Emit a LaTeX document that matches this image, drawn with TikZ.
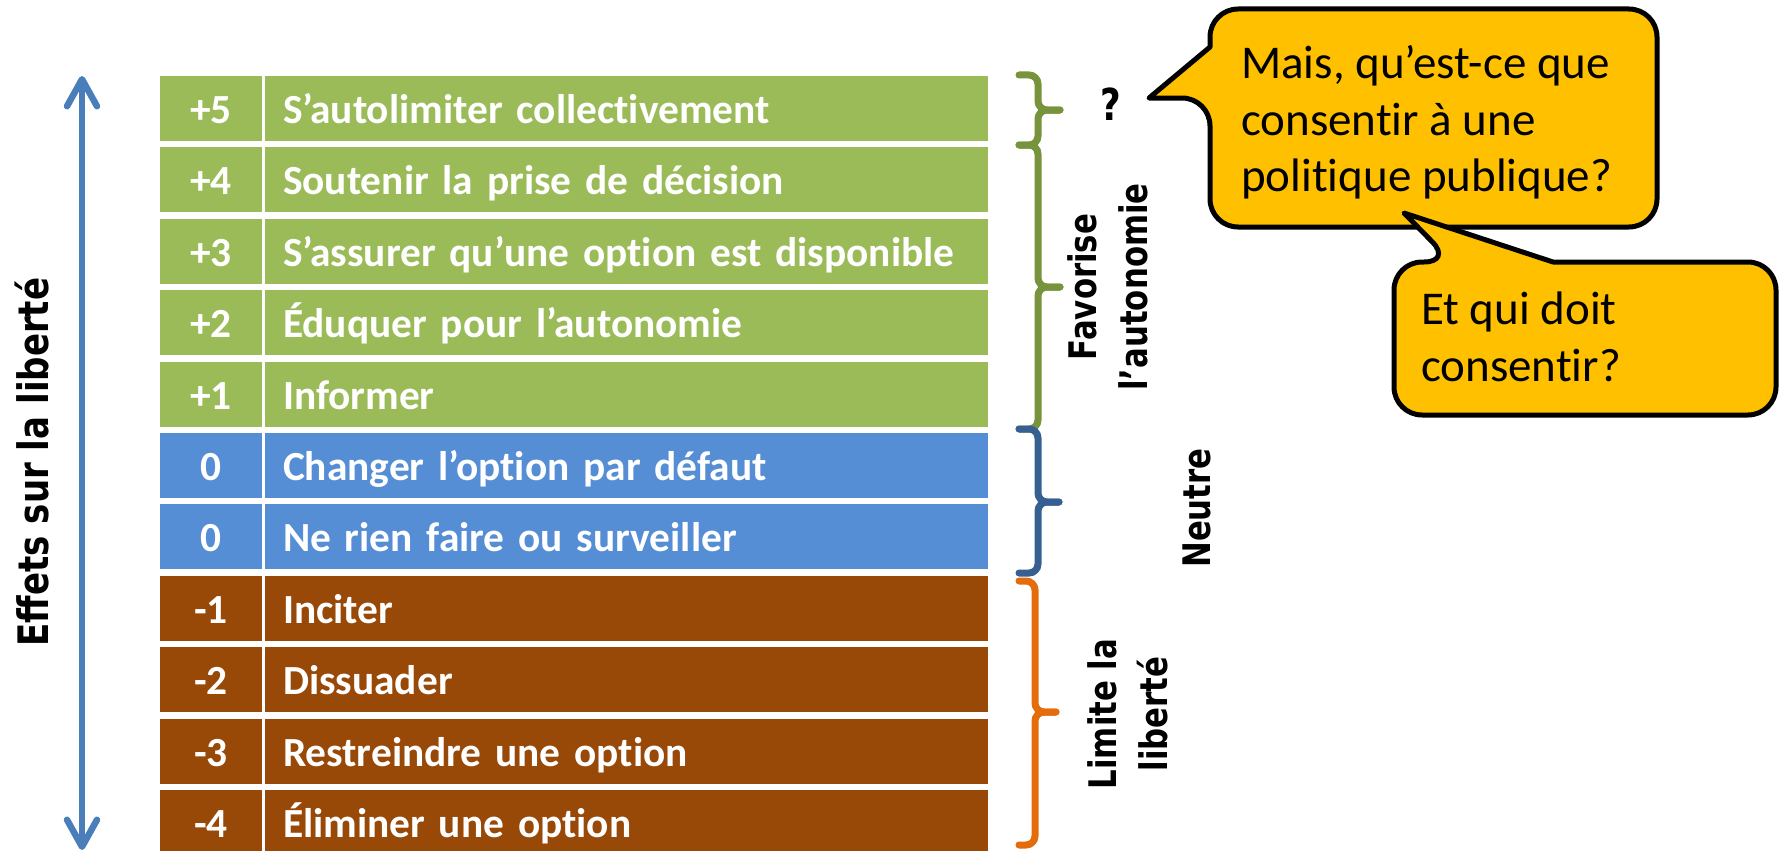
\documentclass[tikz,border=0pt]{standalone}
\usepackage{fontspec}
\setmainfont{Carlito}[Ligatures={TeX,NoCommon}]
\newfontfamily\lblfont{DejaVu Sans}[FakeStretch=0.81]
\usetikzlibrary{arrows.meta}
\definecolor{vert}{HTML}{9BBB59}
\definecolor{bleu}{HTML}{558ED5}
\definecolor{brun}{HTML}{984807}
\definecolor{vertb}{HTML}{77933C}
\definecolor{bleub}{HTML}{376092}
\definecolor{orangeb}{HTML}{E46C0A}
\definecolor{axecol}{HTML}{4A7EBB}
\definecolor{jaune}{HTML}{FFC000}
\begin{document}
\begin{tikzpicture}[x=1pt,y=-1pt,
        num/.style={minimum width=102pt,minimum height=65pt,inner sep=0pt,
            text=white,text height=30pt,text depth=0pt,
            font=\fontsize{41.4}{48}\selectfont\bfseries},
        act/.style={num,minimum width=723pt,text width=687pt,inner xsep=18pt,
            align=left},
        lbl/.style={font={\lblfont\bfseries\fontsize{38}{51}\selectfont},
            align=center,inner sep=0pt,rotate=90},
        brace/.style={line width=7pt,rounded corners=9pt,line cap=round},
        bulle/.style={fill=jaune,draw=black,line width=5pt,line join=round},
        texte/.style={font=\fontsize{47}{56.7}\selectfont,align=left,
            inner sep=0pt,anchor=north west}]
\useasboundingbox (0,0) rectangle (1781,851);

% axe
\coordinate (axtop) at (82,76);
\coordinate (axbot) at (82,850);
\draw[axecol,line width=6.5pt,
    {Straight Barb[length=27pt,width=30pt,round]}-{Straight Barb[length=27pt,width=30pt,round]}]
    (axtop) -- (axbot);
\node[lbl,font={\lblfont\bfseries\fontsize{42}{50}\selectfont}] (axe) at (32,462) {Effets sur la liberté};

% echelle
\node[num,fill=vert] (n5) at (211,108.5) {+5};
\node[act,fill=vert] (a5) at (626.5,108.5) {S’autolimiter collectivement};
\node[num,fill=vert] (n4) at (211,179.9) {+4};
\node[act,fill=vert] (a4) at (626.5,179.9) {Soutenir la prise de décision};
\node[num,fill=vert] (n3) at (211,251.3) {+3};
\node[act,fill=vert] (a3) at (626.5,251.3) {S’assurer qu’une option est disponible};
\node[num,fill=vert] (n2) at (211,322.7) {+2};
\node[act,fill=vert] (a2) at (626.5,322.7) {Éduquer pour l’autonomie};
\node[num,fill=vert] (n1) at (211,394.1) {+1};
\node[act,fill=vert] (a1) at (626.5,394.1) {Informer};
\node[num,fill=bleu] (z1) at (211,465.5) {0};
\node[act,fill=bleu] (b1) at (626.5,465.5) {Changer l’option par défaut};
\node[num,fill=bleu] (z2) at (211,536.9) {0};
\node[act,fill=bleu] (b2) at (626.5,536.9) {Ne rien faire ou surveiller};
\node[num,fill=brun] (m1) at (211,608.3) {-1};
\node[act,fill=brun] (c1) at (626.5,608.3) {Inciter};
\node[num,fill=brun] (m2) at (211,679.7) {-2};
\node[act,fill=brun] (c2) at (626.5,679.7) {Dissuader};
\node[num,fill=brun] (m3) at (211,751.1) {-3};
\node[act,fill=brun] (c3) at (626.5,751.1) {Restreindre une option};
\node[num,fill=brun] (m4) at (211,822.5) {-4};
\node[act,fill=brun] (c4) at (626.5,822.5) {Éliminer une option};

% accolades
\draw[brace,vertb] (1019,75) -- (1038,75) -- (1038,110) -- (1060,110);
\draw[brace,vertb] (1019,145) -- (1038,145) -- (1038,110) -- (1060,110);
\draw[brace,vertb] (1019,145) -- (1038,145) -- (1038,287) -- (1060,287);
\draw[brace,vertb] (1019,429) -- (1038,429) -- (1038,287) -- (1060,287);
\draw[brace,bleub] (1019,429) -- (1038,429) -- (1038,502) -- (1059,502);
\draw[brace,bleub] (1019,573) -- (1038,573) -- (1038,502) -- (1059,502);
\draw[brace,orangeb] (1019,581) -- (1035,581) -- (1035,712) -- (1056,712);
\draw[brace,orangeb] (1019,845) -- (1035,845) -- (1035,712) -- (1056,712);

\node[font={\lblfont\bfseries\fontsize{44}{44}\selectfont},inner sep=0pt] (qm) at (1111,104.5) {?};
\node[lbl] (fav) at (1108,287) {Favorise\\l’autonomie};
\node[lbl] (neu) at (1197,508) {Neutre};
\node[lbl] (lim) at (1128,714) {Limite la\\liberté};

% bulles
\draw[bulle] (1210,47) [rounded corners=28pt] -- (1210,9) -- (1657,9)
    -- (1657,227) -- (1210,227) -- (1210,98) [sharp corners] -- (1149,98) -- cycle;
\node[texte] (q1) at (1241,45) {Mais, qu’est-ce que\\consentir à une\\politique publique?};
\draw[bulle] (1553,262) [rounded corners=28pt] -- (1776,262) -- (1776,415)
    -- (1394,415) -- (1394,262) -- (1452,262) [sharp corners] -- (1404,213) -- cycle;
\node[texte] (q2) at (1421,292) {Et qui doit\\consentir?};
\end{tikzpicture}
\end{document}
